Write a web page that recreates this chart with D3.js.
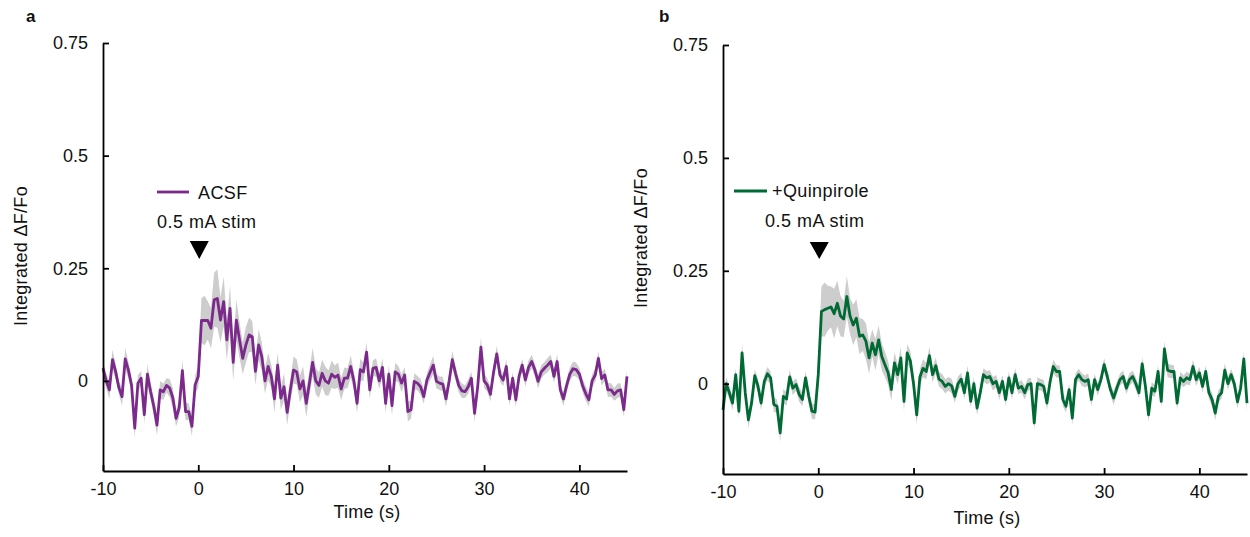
<!DOCTYPE html>
<html><head><meta charset="utf-8">
<script src="https://cdn.jsdelivr.net/npm/d3@7"></script>
<style>
html,body{margin:0;padding:0;background:#fff;}
svg{display:block;font-family:"Liberation Sans",Arial,Helvetica,sans-serif;}
</style></head>
<body>
<svg id="chart" width="1250" height="537"></svg>
<script>
// ---- data ----
const tStart = -10, tStep = 1/3;           // sample times: -10 s ... 45 s at ~3 Hz
const xTicks = [-10, 0, 10, 20, 30, 40];
const xTickLabels = ["-10", "0", "10", "20", "30", "40"];
const yTicks = [0, 0.25, 0.5, 0.75];
const yTickLabels = ["0", "0.25", "0.5", "0.75"];
const seriesNames = ["ACSF", "+Quinpirole"];
const stimLabel = "0.5 mA stim";

const acsfMean = [
 0.028, 0.0, -0.02, 0.047, 0.02, -0.015, -0.035, 0.049, 0.024, -0.01,
 -0.105, -0.005, 0.006, -0.075, 0.015, -0.024, -0.057, -0.098, -0.02, -0.024,
 -0.01, -0.016, -0.038, -0.083, -0.06, 0.023, -0.068, -0.068, -0.101, -0.009,
 0.01, 0.134, 0.134, 0.134, 0.117, 0.18, 0.183, 0.135, 0.176, 0.091,
 0.161, 0.041, 0.135, 0.091, 0.05, 0.08, 0.102, 0.098, 0.021, 0.08,
 0.054, 0.0, 0.032, 0.01, -0.04, 0.035, -0.038, -0.013, -0.07, -0.02,
 0.024, 0.02, -0.018, 0.0, -0.05, -0.005, 0.041, 0.0, -0.01, 0.017,
 0.0, -0.005, 0.015, 0.008, 0.013, -0.018, 0.006, 0.006, 0.032, 0.0,
 -0.05, 0.025, 0.02, 0.064, -0.02, 0.028, 0.03, 0.0, 0.03, -0.05,
 0.015, -0.055, 0.02, 0.015, -0.005, 0.013, -0.068, -0.064, -0.001, -0.005,
 -0.013, -0.035, 0.002, 0.019, 0.035, -0.001, -0.005, -0.007, -0.04, 0.0,
 0.047, 0.017, -0.01, -0.022, -0.024, -0.013, 0.006, -0.072, -0.012, 0.075,
 0.0, -0.009, -0.03, 0.02, 0.06, 0.013, 0.002, 0.032, -0.04, 0.006,
 -0.042, 0.01, 0.035, 0.002, 0.03, 0.043, 0.024, -0.001, 0.02, 0.028,
 0.035, 0.043, 0.01, 0.043, -0.02, -0.04, -0.01, 0.015, 0.027, 0.025,
 0.015, -0.01, -0.028, -0.042, 0.0, 0.013, 0.05, 0.005, 0.013, -0.02,
 -0.02, -0.03, -0.022, -0.02, -0.064, 0.01
];
const acsfSem = [
 0.018, 0.016, 0.02, 0.022, 0.017, 0.015, 0.02, 0.024, 0.018, 0.016,
 0.022, 0.018, 0.016, 0.02, 0.022, 0.017, 0.02, 0.024, 0.02, 0.018,
 0.016, 0.02, 0.022, 0.018, 0.02, 0.024, 0.02, 0.018, 0.022, 0.02,
 0.025, 0.05, 0.055, 0.042, 0.045, 0.06, 0.065, 0.05, 0.055, 0.045,
 0.05, 0.04, 0.045, 0.04, 0.035, 0.04, 0.038, 0.035, 0.03, 0.035,
 0.032, 0.028, 0.03, 0.026, 0.03, 0.028, 0.026, 0.03, 0.028, 0.025,
 0.03, 0.028, 0.03, 0.032, 0.03, 0.028, 0.032, 0.03, 0.028, 0.03,
 0.032, 0.028, 0.03, 0.026, 0.028, 0.025, 0.024, 0.022, 0.025, 0.02,
 0.022, 0.024, 0.02, 0.022, 0.02, 0.018, 0.02, 0.018, 0.02, 0.022,
 0.02, 0.022, 0.02, 0.018, 0.02, 0.018, 0.022, 0.02, 0.018, 0.016,
 0.018, 0.016, 0.015, 0.018, 0.02, 0.016, 0.015, 0.016, 0.018, 0.016,
 0.02, 0.016, 0.015, 0.016, 0.014, 0.016, 0.015, 0.02, 0.016, 0.022,
 0.016, 0.015, 0.016, 0.015, 0.018, 0.015, 0.014, 0.016, 0.015, 0.014,
 0.016, 0.015, 0.014, 0.015, 0.016, 0.015, 0.014, 0.016, 0.015, 0.014,
 0.016, 0.015, 0.014, 0.016, 0.015, 0.016, 0.014, 0.015, 0.016, 0.015,
 0.014, 0.015, 0.016, 0.015, 0.014, 0.015, 0.016, 0.015, 0.014, 0.016,
 0.015, 0.014, 0.016, 0.015, 0.016, 0.015
];
const quinMean = [
 -0.058, 0.0, -0.02, -0.043, 0.02, -0.061, 0.068, -0.02, -0.08, -0.043,
 0.018, -0.005, -0.043, 0.005, 0.022, 0.013, -0.046, -0.05, -0.109, -0.028,
 -0.034, 0.015, -0.01, -0.002, -0.024, -0.035, 0.013, -0.028, -0.061, -0.063,
 0.02, 0.16, 0.164, 0.167, 0.17, 0.155, 0.178, 0.15, 0.143, 0.193,
 0.15, 0.13, 0.145, 0.105, 0.108, 0.094, 0.057, 0.09, 0.064, 0.097,
 0.06, 0.042, 0.024, -0.013, 0.046, 0.02, 0.057, -0.039, 0.068, 0.05,
 0.0, -0.069, 0.015, 0.034, 0.027, 0.062, 0.02, 0.04, 0.01, 0.005,
 -0.006, 0.0, -0.005, -0.028, 0.0, 0.01, -0.02, 0.024, -0.039, 0.0,
 -0.054, -0.02, 0.02, 0.013, 0.016, 0.0, 0.005, -0.02, 0.005, -0.035,
 0.013, -0.02, 0.02, -0.01, -0.006, -0.02, -0.002, 0.0, -0.087, 0.0,
 -0.002, -0.006, -0.043, 0.005, 0.038, 0.027, 0.027, -0.035, -0.05, -0.013,
 -0.076, 0.009, 0.02, 0.009, 0.005, 0.009, -0.035, 0.009, -0.013, 0.009,
 0.042, 0.016, -0.013, -0.032, -0.01, 0.009, 0.016, -0.01, 0.009, 0.016,
 0.0, -0.02, 0.044, -0.005, -0.069, -0.01, -0.017, 0.027, -0.039, 0.077,
 0.03, 0.027, 0.027, -0.043, 0.013, 0.005, 0.013, 0.009, 0.038, 0.009,
 0.024, -0.006, 0.027, -0.02, -0.035, -0.065, -0.028, -0.02, 0.03, 0.0,
 0.02, 0.0, -0.04, -0.01, 0.055, -0.043
];
const quinSem = [
 0.016, 0.014, 0.015, 0.016, 0.014, 0.016, 0.02, 0.015, 0.018, 0.015,
 0.014, 0.015, 0.016, 0.014, 0.015, 0.014, 0.016, 0.015, 0.02, 0.016,
 0.015, 0.016, 0.015, 0.014, 0.016, 0.015, 0.014, 0.016, 0.018, 0.016,
 0.03, 0.055, 0.06, 0.05, 0.045, 0.055, 0.05, 0.045, 0.04, 0.045,
 0.04, 0.045, 0.042, 0.04, 0.035, 0.04, 0.035, 0.03, 0.035, 0.032,
 0.03, 0.028, 0.026, 0.025, 0.024, 0.022, 0.024, 0.022, 0.02, 0.022,
 0.02, 0.022, 0.018, 0.02, 0.018, 0.02, 0.017, 0.018, 0.016, 0.017,
 0.016, 0.015, 0.016, 0.015, 0.016, 0.014, 0.015, 0.016, 0.015, 0.014,
 0.016, 0.015, 0.014, 0.015, 0.014, 0.015, 0.014, 0.016, 0.014, 0.015,
 0.014, 0.015, 0.014, 0.013, 0.014, 0.015, 0.014, 0.013, 0.016, 0.014,
 0.013, 0.014, 0.015, 0.014, 0.015, 0.014, 0.013, 0.015, 0.014, 0.013,
 0.016, 0.014, 0.013, 0.014, 0.013, 0.014, 0.015, 0.013, 0.014, 0.013,
 0.015, 0.014, 0.013, 0.015, 0.014, 0.013, 0.014, 0.013, 0.014, 0.013,
 0.014, 0.013, 0.015, 0.014, 0.016, 0.014, 0.013, 0.014, 0.015, 0.017,
 0.016, 0.015, 0.014, 0.015, 0.014, 0.013, 0.014, 0.013, 0.015, 0.014,
 0.013, 0.014, 0.013, 0.014, 0.015, 0.016, 0.014, 0.013, 0.015, 0.014,
 0.013, 0.014, 0.015, 0.014, 0.016, 0.018
];

// ---- layout / style ----
const FONT = 18;
const panels = [
  { tag: "a", name: seriesNames[0], mean: acsfMean, sem: acsfSem, color: "#7b2a8c",
    x0: 103, x1: 627, yTop: 43, yBot: 471,
    tagPos: [26, 22], yLabX: 27, yLabY: 256, xLabX: 367, xLabY: 518,
    legLine: [157, 189, 192], legText: [198, 199], stimText: [157, 228], tri: [241, 259] },
  { tag: "b", name: seriesNames[1], mean: quinMean, sem: quinSem, color: "#006a35",
    x0: 723, x1: 1247, yTop: 45, yBot: 474,
    tagPos: [659, 22], yLabX: 647, yLabY: 238, xLabX: 987, xLabY: 524,
    legLine: [734, 767, 191], legText: [772, 197], stimText: [765, 227], tri: [242, 259] }
];

const svg = d3.select("#chart");

panels.forEach(p => {
  const x = d3.scaleLinear().domain([-10, 45]).range([p.x0, p.x1]);
  const y = d3.scaleLinear().domain([-0.2, 0.75]).range([p.yBot, p.yTop]);
  const data = p.mean.map((m, i) => ({ t: tStart + i * tStep, m, s: p.sem[i] }));
  const g = svg.append("g");

  // SEM band
  g.append("path").datum(data)
    .attr("fill", "#cdcdcd")
    .attr("d", d3.area().x(d => x(d.t)).y0(d => y(d.m - d.s)).y1(d => y(d.m + d.s)));

  // mean line
  g.append("path").datum(data)
    .attr("fill", "none").attr("stroke", p.color).attr("stroke-width", 2.8)
    .attr("stroke-linejoin", "round")
    .attr("d", d3.line().x(d => x(d.t)).y(d => y(d.m)));

  // axes
  const xa = g.append("g").attr("transform", `translate(0,${p.yBot})`)
    .call(d3.axisBottom(x).tickValues(xTicks).tickFormat((d, i) => xTickLabels[i])
      .tickSizeInner(-6).tickSizeOuter(0).tickPadding(11));
  const ya = g.append("g").attr("transform", `translate(${p.x0},0)`)
    .call(d3.axisLeft(y).tickValues(yTicks).tickFormat((d, i) => yTickLabels[i])
      .tickSizeInner(-6).tickSizeOuter(0).tickPadding(15));
  [xa, ya].forEach(a => {
    a.select(".domain").attr("stroke", "#000").attr("stroke-width", 1.8);
    a.selectAll(".tick line").attr("stroke", "#000").attr("stroke-width", 1.8);
    a.selectAll(".tick text").attr("fill", "#111").style("font-size", FONT + "px")
      .style("font-family", "'Liberation Sans', Arial, sans-serif");
  });

  // axis titles
  g.append("text").attr("x", p.xLabX).attr("y", p.xLabY).attr("text-anchor", "middle")
    .style("font-size", FONT + "px").style("letter-spacing", "0.2px").attr("fill", "#111").text("Time (s)");
  g.append("text").attr("transform", `translate(${p.yLabX},${p.yLabY}) rotate(-90)`)
    .attr("text-anchor", "middle").style("font-size", FONT + "px").style("letter-spacing", "0.3px")
    .attr("fill", "#111").text("Integrated \u0394F/Fo");

  // panel tag
  g.append("text").attr("x", p.tagPos[0]).attr("y", p.tagPos[1])
    .style("font-size", "17px").style("font-weight", "bold").attr("fill", "#111").text(p.tag);

  // legend
  g.append("line").attr("x1", p.legLine[0]).attr("x2", p.legLine[1])
    .attr("y1", p.legLine[2]).attr("y2", p.legLine[2])
    .attr("stroke", p.color).attr("stroke-width", 2.8);
  g.append("text").attr("x", p.legText[0]).attr("y", p.legText[1])
    .style("font-size", FONT + "px").style("letter-spacing", "0.4px").attr("fill", "#111").text(p.name);

  // stimulus marker
  g.append("text").attr("x", p.stimText[0]).attr("y", p.stimText[1])
    .style("font-size", FONT + "px").style("letter-spacing", "0.5px").attr("fill", "#111").text(stimLabel);
  const cx = x(0) + 1, w = 9.5;
  g.append("path")
    .attr("d", `M${cx - w},${p.tri[0]}L${cx + w},${p.tri[0]}L${cx},${p.tri[1]}Z`)
    .attr("fill", "#000");
});
</script>
</body></html>
